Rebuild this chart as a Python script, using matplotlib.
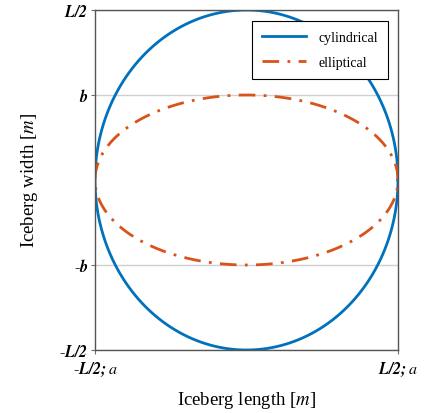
import numpy as np
import matplotlib.pyplot as plt

plt.rcParams['font.family'] = ['Liberation Serif', 'DejaVu Serif']
plt.rcParams['mathtext.fontset'] = 'stix'

# half length and half width (normalised)
half_L = 1.0
b = 0.5
a = 1.0

x_ticks = [-half_L, half_L]
x_labels = [r'-$\mathbfit{L/2;}\mathit{a}$', r'$\mathbfit{L/2;}\mathit{a}$']
y_ticks = [-half_L, -b, b, half_L]
y_labels = [r'-$\mathbfit{L/2}$', r'-$\mathbfit{b}$', r'$\mathbfit{b}$', r'$\mathbfit{L/2}$']

t = np.linspace(0, 2 * np.pi, 400)

fig = plt.figure(figsize=(4.24, 4.14), dpi=100)
ax = fig.add_axes([95 / 424, 63 / 414, 303 / 424, 340 / 414])

ax.plot(a * np.cos(t), half_L * np.sin(t), color='#0072BD', lw=2, label='cylindrical')
ax.plot(a * np.cos(t), b * np.sin(t), color='#D95319', lw=2,
        dashes=(6, 3, 1, 3), label='elliptical')

ax.set_xlim(-half_L, half_L)
ax.set_ylim(-half_L, half_L)
ax.set_xticks(x_ticks)
ax.set_xticklabels(x_labels, fontsize=11.5)
ax.set_yticks(y_ticks)
ax.set_yticklabels(y_labels, fontsize=11.5)
ax.grid(True, axis='y', color='#d0d0d0', lw=1)
ax.tick_params(length=3, color='#707070', pad=2)
ax.tick_params(axis='x', pad=4)
for s in ax.spines.values():
    s.set_color('#555555')
    s.set_linewidth(1)

ax.set_xlabel(r'Iceberg length [$m$]', fontsize=13.5, labelpad=8)
ax.set_ylabel(r'Iceberg width [$m$]', fontsize=13.5, labelpad=14)

leg = ax.legend(loc='upper right', bbox_to_anchor=(0.967, 0.968), fontsize=10,
                fancybox=False, framealpha=1, edgecolor='black',
                handlelength=3.2, handletextpad=0.9, borderpad=0.7,
                labelspacing=0.9, borderaxespad=0)
leg.get_frame().set_linewidth(0.8)

fig.savefig('out.png', dpi=100)
